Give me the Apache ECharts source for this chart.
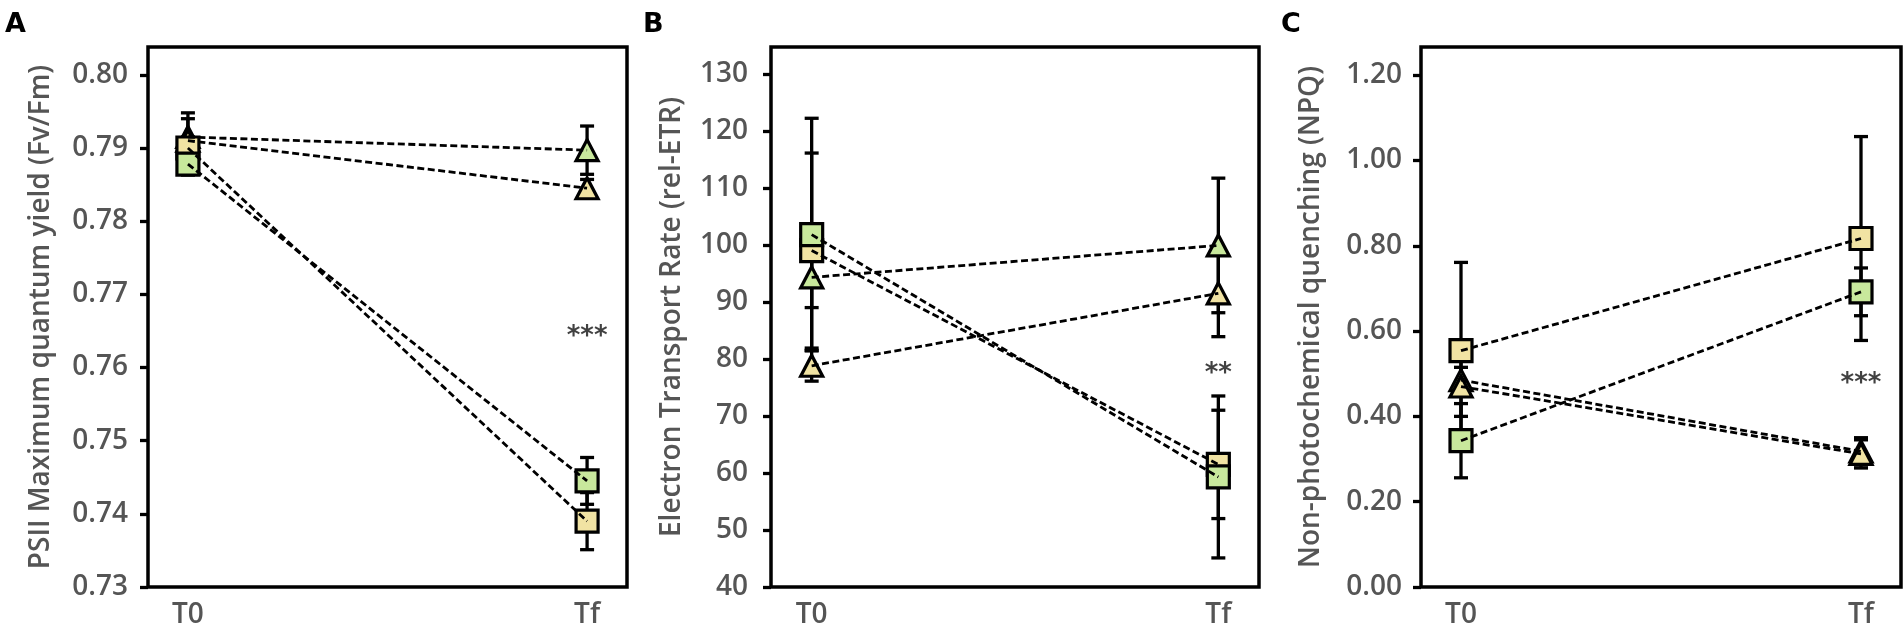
<!DOCTYPE html>
<html lang="en">
<head>
  <meta charset="UTF-8" />
  <title>PSII Fv/Fm, rel-ETR and NPQ, T0 vs Tf</title>
  <script src="https://cdn.jsdelivr.net/npm/echarts@6.0.0/dist/echarts.min.js"></script>
  <style>
    body {
      margin: 0;
      background: #fff;
      overflow: hidden;
    }
    #main {
      width: 1904px;
      height: 629px;
    }
  </style>
</head>
<body>
  <div id="main"></div>
  <script>
    const timeLabels = ['T0', 'Tf'];
    const timeX = [0, 1];

    // A: PSII maximum quantum yield
    const fvfmTicks = [0.73, 0.74, 0.75, 0.76, 0.77, 0.78, 0.79, 0.80];
    const fvfmTriGreen = [0.7915, 0.7897];
    const fvfmTriGreenErr = [0.0033, 0.0033];
    const fvfmTriYellow = [0.7910, 0.7845];
    const fvfmTriYellowErr = [0.0030, 0.0012];
    const fvfmSqYellow = [0.7900, 0.7390];
    const fvfmSqYellowErr = [0.0015, 0.0039];
    const fvfmSqGreen = [0.7878, 0.7445];
    const fvfmSqGreenErr = [0.0015, 0.0032];
    const fvfmStars = [1, 0.7647, '***'];

    // B: electron transport rate
    const etrTicks = [40, 50, 60, 70, 80, 90, 100, 110, 120, 130];
    const etrTriGreen = [94.3, 99.9];
    const etrTriGreenErr = [5.3, 11.8];
    const etrTriYellow = [78.8, 91.5];
    const etrTriYellowErr = [2.7, 7.6];
    const etrSqYellow = [99.0, 61.5];
    const etrSqYellowErr = [17.1, 9.5];
    const etrSqGreen = [101.8, 59.3];
    const etrSqGreenErr = [20.4, 14.2];
    const etrStars = [1, 78, '**'];

    // C: non-photochemical quenching
    const npqTicks = [0, 0.2, 0.4, 0.6, 0.8, 1.0, 1.2];
    const npqTriGreen = [0.485, 0.318];
    const npqTriGreenErr = [0.030, 0.032];
    const npqTriYellow = [0.470, 0.312];
    const npqTriYellowErr = [0.070, 0.033];
    const npqSqYellow = [0.554, 0.817];
    const npqSqYellowErr = [0.207, 0.239];
    const npqSqGreen = [0.343, 0.692];
    const npqSqGreenErr = [0.087, 0.056];
    const npqStars = [1, 0.484, '***'];

    const GREEN = '#c8e89c';
    const YELLOW = '#f1e3a3';
    const GREY = '#555';
    const FONT = '"Open Sans", "Noto Sans", sans-serif';

    const groups = (tg, tge, ty, tye, sy, sye, sg, sge) => [
      { shape: 'triangle', color: GREEN, mean: tg, err: tge },
      { shape: 'triangle', color: YELLOW, mean: ty, err: tye },
      { shape: 'rect', color: YELLOW, mean: sy, err: sye },
      { shape: 'rect', color: GREEN, mean: sg, err: sge }
    ];

    const panels = [
      {
        letter: 'A', letterX: 0, left: 148, right: 627,
        min: 0.73, max: 0.8038, ticks: fvfmTicks, digits: 2,
        name: 'PSII Maximum quantum yield (Fv/Fm)', nameGap: 93, labelMargin: 20,
        groups: groups(fvfmTriGreen, fvfmTriGreenErr, fvfmTriYellow, fvfmTriYellowErr,
                       fvfmSqYellow, fvfmSqYellowErr, fvfmSqGreen, fvfmSqGreenErr),
        stars: fvfmStars
      },
      {
        letter: 'B', letterX: 638, left: 771, right: 1259,
        min: 40, max: 134.7, ticks: etrTicks, digits: 0,
        name: 'Electron Transport Rate (rel-ETR)', nameGap: 85, labelMargin: 23,
        groups: groups(etrTriGreen, etrTriGreenErr, etrTriYellow, etrTriYellowErr,
                       etrSqYellow, etrSqYellowErr, etrSqGreen, etrSqGreenErr),
        stars: etrStars
      },
      {
        letter: 'C', letterX: 1276, left: 1421, right: 1901,
        min: 0, max: 1.266, ticks: npqTicks, digits: 2,
        name: 'Non-photochemical quenching (NPQ)', nameGap: 96, labelMargin: 19,
        groups: groups(npqTriGreen, npqTriGreenErr, npqTriYellow, npqTriYellowErr,
                       npqSqYellow, npqSqYellowErr, npqSqGreen, npqSqGreenErr),
        stars: npqStars
      }
    ];

    const chart = echarts.init(document.getElementById('main'));

    function renderErrorBar(params, api) {
      const x = api.value(0), y = api.value(1), e = api.value(2);
      const top = api.coord([x, y + e]);
      const bot = api.coord([x, y - e]);
      const cap = 7;
      const style = { stroke: '#000', lineWidth: 3.3 };
      return {
        type: 'group',
        children: [
          { type: 'line', shape: { x1: top[0], y1: top[1], x2: bot[0], y2: bot[1] }, style },
          { type: 'line', shape: { x1: top[0] - cap, y1: top[1], x2: top[0] + cap, y2: top[1] }, style },
          { type: 'line', shape: { x1: bot[0] - cap, y1: bot[1], x2: bot[0] + cap, y2: bot[1] }, style }
        ]
      };
    }

    const grid = [], xAxis = [], yAxis = [], series = [], title = [];

    panels.forEach((p, i) => {
      grid.push({
        left: p.left, width: p.right - p.left, top: 47, height: 540,
        show: true, borderColor: '#000', borderWidth: 3.5, backgroundColor: '#fff'
      });
      title.push({
        text: p.letter, left: p.letterX, top: 6,
        textStyle: { fontFamily: 'DejaVu Sans', fontWeight: 'bold', fontSize: 27, color: '#000' }
      });
      xAxis.push({
        type: 'value', gridIndex: i, min: -0.1, max: 1.1, position: 'bottom',
        axisLine: { show: false, onZero: false }, axisTick: { show: false }, splitLine: { show: false },
        axisLabel: {
          customValues: timeX, margin: 14,
          formatter: v => timeLabels[timeX.indexOf(Math.round(v))],
          fontFamily: FONT, fontWeight: 600, fontSize: 28, color: GREY
        }
      });
      yAxis.push({
        type: 'value', gridIndex: i, min: p.min, max: p.max, position: 'left',
        name: p.name, nameLocation: 'middle', nameGap: p.nameGap,
        nameTextStyle: { fontFamily: FONT, fontWeight: 600, fontSize: 28, color: GREY },
        axisLine: { show: false, onZero: false }, splitLine: { show: false },
        axisTick: { show: true, customValues: p.ticks, length: 8, lineStyle: { color: '#000', width: 3.3 } },
        axisLabel: {
          customValues: p.ticks, margin: p.labelMargin,
          formatter: v => v.toFixed(p.digits),
          fontFamily: FONT, fontWeight: 600, fontSize: 28, color: GREY
        }
      });

      p.groups.forEach((g, k) => {
        const pts = timeX.map((x, j) => [x, g.mean[j]]);
        series.push({
          type: 'custom', xAxisIndex: i, yAxisIndex: i, z: 1, silent: true,
          renderItem: renderErrorBar,
          data: timeX.map((x, j) => [x, g.mean[j], g.err[j]])
        });
        series.push({
          type: 'scatter', xAxisIndex: i, yAxisIndex: i, z: 2 + k * 0.01, silent: true,
          symbol: g.shape,
          symbolSize: g.shape === 'rect' ? 22 : [22, 21],
          itemStyle: { color: g.color, borderColor: '#000', borderWidth: 3.2, opacity: 1 },
          data: pts
        });
        series.push({
          type: 'line', xAxisIndex: i, yAxisIndex: i, z: 3, silent: true,
          showSymbol: false, symbol: 'none',
          lineStyle: { color: '#000', width: 2.8, type: [7, 3.5] },
          data: pts
        });
      });

      series.push({
        type: 'scatter', xAxisIndex: i, yAxisIndex: i, z: 4, silent: true,
        symbolSize: 0,
        label: {
          show: true, position: 'inside', offset: [0, 4],
          formatter: d => d.data[2],
          fontFamily: 'DejaVu Sans', fontWeight: 'bold', fontSize: 26, color: '#111'
        },
        data: [p.stars]
      });
    });

    chart.setOption({
      animation: false,
      backgroundColor: '#fff',
      title, grid, xAxis, yAxis, series
    });
  </script>
</body>
</html>
